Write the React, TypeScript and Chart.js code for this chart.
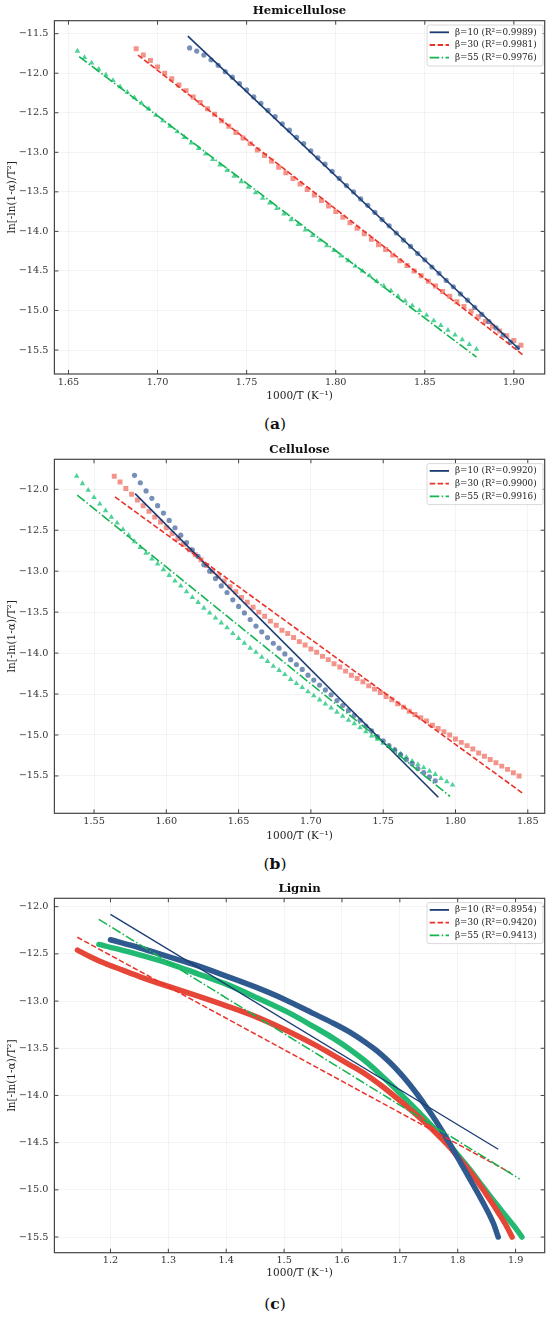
import React, { useEffect, useRef } from 'react';
import { Chart, registerables } from 'chart.js';

Chart.register(...registerables);

const SERIF = "'DejaVu Serif', serif";

// ---------- (a) Hemicellulose ----------
const hemiX10 = [1.718, 1.722, 1.726, 1.730, 1.734, 1.738, 1.742, 1.746, 1.750, 1.754, 1.758, 1.762, 1.766, 1.770, 1.774, 1.778, 1.782, 1.786, 1.790, 1.794, 1.798, 1.802, 1.806, 1.810, 1.814, 1.818, 1.822, 1.826, 1.830, 1.834, 1.838, 1.842, 1.846, 1.850, 1.854, 1.858, 1.862, 1.866, 1.870, 1.874, 1.878, 1.882, 1.886, 1.890, 1.894, 1.898, 1.902];
const hemiY10 = [-11.68, -11.72, -11.77, -11.83, -11.90, -11.98, -12.05, -12.13, -12.21, -12.30, -12.38, -12.47, -12.55, -12.64, -12.72, -12.81, -12.89, -12.98, -13.07, -13.15, -13.24, -13.33, -13.42, -13.50, -13.59, -13.67, -13.76, -13.85, -13.93, -14.02, -14.11, -14.19, -14.28, -14.36, -14.45, -14.53, -14.62, -14.70, -14.79, -14.87, -14.96, -15.05, -15.14, -15.22, -15.31, -15.40, -15.47];
const hemiX30 = [1.688, 1.692, 1.696, 1.700, 1.704, 1.708, 1.712, 1.716, 1.720, 1.724, 1.728, 1.732, 1.736, 1.740, 1.744, 1.748, 1.752, 1.756, 1.760, 1.764, 1.768, 1.772, 1.776, 1.780, 1.784, 1.788, 1.792, 1.796, 1.800, 1.804, 1.808, 1.812, 1.816, 1.820, 1.824, 1.828, 1.832, 1.836, 1.840, 1.844, 1.848, 1.852, 1.856, 1.860, 1.864, 1.868, 1.872, 1.876, 1.880, 1.884, 1.888, 1.892, 1.896, 1.900, 1.904];
const hemiY30 = [-11.69, -11.77, -11.84, -11.92, -12.00, -12.07, -12.15, -12.22, -12.30, -12.37, -12.45, -12.52, -12.60, -12.67, -12.75, -12.82, -12.89, -12.97, -13.04, -13.11, -13.19, -13.26, -13.33, -13.40, -13.47, -13.54, -13.61, -13.68, -13.75, -13.82, -13.89, -13.96, -14.03, -14.10, -14.17, -14.23, -14.30, -14.37, -14.43, -14.50, -14.56, -14.63, -14.69, -14.76, -14.82, -14.89, -14.95, -15.01, -15.08, -15.14, -15.20, -15.26, -15.32, -15.38, -15.44];
const hemiX55 = [1.655, 1.659, 1.663, 1.667, 1.671, 1.675, 1.679, 1.683, 1.687, 1.691, 1.695, 1.699, 1.703, 1.707, 1.711, 1.715, 1.719, 1.723, 1.727, 1.731, 1.735, 1.739, 1.743, 1.747, 1.751, 1.755, 1.759, 1.763, 1.767, 1.771, 1.775, 1.779, 1.783, 1.787, 1.791, 1.795, 1.799, 1.803, 1.807, 1.811, 1.815, 1.819, 1.823, 1.827, 1.831, 1.835, 1.839, 1.843, 1.847, 1.851, 1.855, 1.859, 1.863, 1.867, 1.871, 1.875, 1.879];
const hemiY55 = [-11.72, -11.80, -11.87, -11.95, -12.02, -12.09, -12.17, -12.24, -12.31, -12.38, -12.45, -12.53, -12.60, -12.67, -12.74, -12.81, -12.88, -12.95, -13.02, -13.09, -13.16, -13.23, -13.30, -13.37, -13.44, -13.51, -13.58, -13.64, -13.71, -13.78, -13.85, -13.91, -13.98, -14.05, -14.11, -14.18, -14.24, -14.31, -14.37, -14.44, -14.50, -14.56, -14.63, -14.69, -14.75, -14.82, -14.88, -14.94, -15.00, -15.06, -15.13, -15.19, -15.25, -15.31, -15.37, -15.43, -15.49];
// fitted lines (end points)
const hemiFitX = [[1.717, 1.903], [1.689, 1.905], [1.656, 1.879]];
const hemiFitY = [[-11.53, -15.49], [-11.77, -15.56], [-11.79, -15.59]];
const hemiR2 = ['0.9989', '0.9981', '0.9976'];

// ---------- (b) Cellulose ----------
const celX10 = [1.578, 1.582, 1.586, 1.590, 1.594, 1.598, 1.602, 1.606, 1.610, 1.614, 1.618, 1.622, 1.626, 1.630, 1.634, 1.638, 1.642, 1.646, 1.650, 1.654, 1.658, 1.662, 1.666, 1.670, 1.674, 1.678, 1.682, 1.686, 1.690, 1.694, 1.698, 1.702, 1.706, 1.710, 1.714, 1.718, 1.722, 1.726, 1.730, 1.734, 1.738, 1.742, 1.746, 1.750, 1.754, 1.758, 1.762, 1.766, 1.770, 1.774, 1.778, 1.782, 1.786];
const celY10 = [-11.83, -11.92, -12.02, -12.11, -12.20, -12.29, -12.38, -12.47, -12.56, -12.65, -12.74, -12.82, -12.92, -13.00, -13.09, -13.18, -13.26, -13.35, -13.43, -13.51, -13.59, -13.67, -13.74, -13.81, -13.88, -13.94, -14.01, -14.08, -14.14, -14.20, -14.27, -14.33, -14.39, -14.45, -14.51, -14.58, -14.64, -14.70, -14.76, -14.82, -14.89, -14.95, -15.02, -15.07, -15.13, -15.18, -15.24, -15.30, -15.35, -15.41, -15.46, -15.51, -15.56];
const celX30 = [1.564, 1.568, 1.572, 1.576, 1.580, 1.584, 1.588, 1.592, 1.596, 1.600, 1.604, 1.608, 1.612, 1.616, 1.620, 1.624, 1.628, 1.632, 1.636, 1.640, 1.644, 1.648, 1.652, 1.656, 1.660, 1.664, 1.668, 1.672, 1.676, 1.680, 1.684, 1.688, 1.692, 1.696, 1.700, 1.704, 1.708, 1.712, 1.716, 1.720, 1.724, 1.728, 1.732, 1.736, 1.740, 1.744, 1.748, 1.752, 1.756, 1.760, 1.764, 1.768, 1.772, 1.776, 1.780, 1.784, 1.788, 1.792, 1.796, 1.800, 1.804, 1.808, 1.812, 1.816, 1.820, 1.824, 1.828, 1.832, 1.836, 1.840, 1.844];
const celY30 = [-11.84, -11.91, -11.99, -12.06, -12.13, -12.20, -12.27, -12.34, -12.40, -12.47, -12.54, -12.60, -12.67, -12.74, -12.80, -12.86, -12.93, -13.00, -13.06, -13.12, -13.19, -13.25, -13.32, -13.38, -13.44, -13.50, -13.55, -13.61, -13.66, -13.72, -13.76, -13.81, -13.86, -13.90, -13.95, -13.99, -14.04, -14.08, -14.13, -14.17, -14.22, -14.27, -14.31, -14.35, -14.40, -14.44, -14.48, -14.53, -14.57, -14.62, -14.66, -14.71, -14.75, -14.79, -14.83, -14.88, -14.92, -14.96, -15.00, -15.05, -15.09, -15.13, -15.17, -15.22, -15.26, -15.30, -15.34, -15.38, -15.42, -15.46, -15.50];
const celX55 = [1.538, 1.542, 1.546, 1.550, 1.554, 1.558, 1.562, 1.566, 1.570, 1.574, 1.578, 1.582, 1.586, 1.590, 1.594, 1.598, 1.602, 1.606, 1.610, 1.614, 1.618, 1.622, 1.626, 1.630, 1.634, 1.638, 1.642, 1.646, 1.650, 1.654, 1.658, 1.662, 1.666, 1.670, 1.674, 1.678, 1.682, 1.686, 1.690, 1.694, 1.698, 1.702, 1.706, 1.710, 1.714, 1.718, 1.722, 1.726, 1.730, 1.734, 1.738, 1.742, 1.746, 1.750, 1.754, 1.758, 1.762, 1.766, 1.770, 1.774, 1.778, 1.782, 1.786, 1.790, 1.794, 1.798];
const celY55 = [-11.84, -11.93, -12.01, -12.10, -12.18, -12.26, -12.34, -12.41, -12.49, -12.56, -12.64, -12.71, -12.78, -12.85, -12.91, -12.98, -13.05, -13.12, -13.18, -13.25, -13.32, -13.38, -13.45, -13.51, -13.57, -13.63, -13.69, -13.76, -13.82, -13.88, -13.94, -13.99, -14.05, -14.10, -14.16, -14.21, -14.26, -14.32, -14.37, -14.42, -14.47, -14.52, -14.57, -14.62, -14.67, -14.72, -14.77, -14.82, -14.86, -14.91, -14.96, -15.01, -15.05, -15.10, -15.14, -15.18, -15.23, -15.27, -15.32, -15.36, -15.40, -15.44, -15.48, -15.53, -15.57, -15.61];
const celFitX = [[1.5784, 1.7881], [1.5645, 1.8464], [1.5384, 1.7962]];
const celFitY = [[-12.053, -15.76], [-12.094, -15.71], [-12.07, -15.75]];
const celR2 = ['0.9920', '0.9900', '0.9916'];

// ---------- (c) Lignin ----------
const ligX10 = [1.20, 1.25, 1.30, 1.35, 1.40, 1.45, 1.50, 1.55, 1.585, 1.615, 1.642, 1.662, 1.682, 1.700, 1.716, 1.731, 1.745, 1.757, 1.768, 1.780, 1.791, 1.802, 1.814, 1.825, 1.837, 1.846, 1.854, 1.862, 1.870];
const ligY10 = [-12.35, -12.435, -12.53, -12.625, -12.735, -12.85, -12.98, -13.13, -13.235, -13.335, -13.445, -13.535, -13.645, -13.76, -13.875, -13.995, -14.115, -14.22, -14.325, -14.445, -14.56, -14.68, -14.81, -14.93, -15.06, -15.16, -15.255, -15.36, -15.50];
const ligX30 = [1.143, 1.165, 1.19, 1.22, 1.25, 1.30, 1.35, 1.40, 1.455, 1.507, 1.555, 1.584, 1.612, 1.642, 1.670, 1.699, 1.722, 1.745, 1.765, 1.785, 1.802, 1.819, 1.834, 1.848, 1.860, 1.871, 1.883, 1.894];
const ligY30 = [-12.46, -12.53, -12.60, -12.67, -12.74, -12.845, -12.945, -13.05, -13.175, -13.32, -13.47, -13.57, -13.67, -13.78, -13.905, -14.05, -14.17, -14.295, -14.415, -14.54, -14.665, -14.79, -14.91, -15.035, -15.145, -15.25, -15.37, -15.50];
const ligX55 = [1.18, 1.21, 1.25, 1.30, 1.35, 1.40, 1.455, 1.507, 1.555, 1.584, 1.612, 1.642, 1.670, 1.699, 1.722, 1.745, 1.765, 1.785, 1.805, 1.825, 1.842, 1.860, 1.875, 1.888, 1.900, 1.911];
const ligY55 = [-12.40, -12.445, -12.51, -12.60, -12.71, -12.82, -12.97, -13.12, -13.285, -13.39, -13.505, -13.645, -13.80, -13.97, -14.11, -14.255, -14.385, -14.52, -14.665, -14.815, -14.955, -15.10, -15.215, -15.315, -15.405, -15.50];
const ligFitX = [[1.2, 1.870], [1.1427, 1.8914], [1.1799, 1.9069]];
const ligFitY = [[-12.081, -14.57], [-12.324, -14.82], [-12.134, -14.885]];
const ligR2 = ['0.8954', '0.9420', '0.9413'];

const betas = ['β=10', 'β=30', 'β=55'];

const markers = [
  { style: 'circle', radius: 2.6, color: 'rgba(45, 85, 145, 0.65)', solid: '#2f5a8f' },
  { style: 'rect', radius: 3.5, color: 'rgba(235, 75, 60, 0.6)', solid: '#e54637' },
  { style: 'triangle', radius: 3.2, color: 'rgba(20, 195, 120, 0.75)', solid: '#22ba72' },
];
const fits = [
  { color: '#1b3c73', dash: [] as number[] },
  { color: '#eb3228', dash: [5.5, 2.4] },
  { color: '#14b450', dash: [9.6, 2.4, 1.5, 2.4] },
];

const pts = (xs: number[], ys: number[]) => xs.map((x, i) => ({ x, y: ys[i] }));

const panels = [
  {
    title: 'Hemicellulose', caption: 'a',
    xMin: 1.6421, xMax: 1.9173, xStep: 0.05, xDigits: 2,
    yMin: -15.803, yMax: -11.336,
    top: 20.7, bottom: 374, tickPad: 2.9, xTitleY: 396.7, titleY: 11,
    xs: [hemiX10, hemiX30, hemiX55], ys: [hemiY10, hemiY30, hemiY55],
    fitX: hemiFitX, fitY: hemiFitY, r2: hemiR2, thick: false,
  },
  {
    title: 'Cellulose', caption: 'b',
    xMin: 1.5226, xMax: 1.8617, xStep: 0.05, xDigits: 2,
    yMin: -15.956, yMax: -11.634,
    top: 19.3, bottom: 373.3, tickPad: 2.6, xTitleY: 396, titleY: 10,
    xs: [celX10, celX30, celX55], ys: [celY10, celY30, celY55],
    fitX: celFitX, fitY: celFitY, r2: celR2, thick: false,
  },
  {
    title: 'Lignin', caption: 'c',
    xMin: 1.1031, xMax: 1.9503, xStep: 0.1, xDigits: 1,
    yMin: -15.666, yMax: -11.911,
    top: 18.3, bottom: 372.7, tickPad: 1.8, xTitleY: 393, titleY: 9,
    xs: [ligX10, ligX30, ligX55], ys: [ligY10, ligY30, ligY55],
    fitX: ligFitX, fitY: ligFitY, r2: ligR2, thick: true,
  },
];

const H = 410;

// title over the plot area, inward ticks on four sides, frame, boxed legend of the fits
const framePlugin = {
  id: 'frameLegend',
  afterDatasetsDraw(chart: any, _args: any, opts: any) {
    const { ctx, chartArea: a, scales } = chart;
    ctx.save();
    ctx.strokeStyle = '#444';
    ctx.lineWidth = 1;
    ctx.setLineDash([]);
    ctx.beginPath();
    scales.x.ticks.forEach((t: any) => {
      const px = scales.x.getPixelForValue(t.value);
      ctx.moveTo(px, a.bottom); ctx.lineTo(px, a.bottom - 4);
      ctx.moveTo(px, a.top); ctx.lineTo(px, a.top + 4);
    });
    scales.y.ticks.forEach((t: any) => {
      const py = scales.y.getPixelForValue(t.value);
      ctx.moveTo(a.left, py); ctx.lineTo(a.left + 4, py);
      ctx.moveTo(a.right, py); ctx.lineTo(a.right - 4, py);
    });
    ctx.stroke();
    ctx.lineWidth = 1.2;
    ctx.strokeRect(a.left, a.top, a.right - a.left, a.bottom - a.top);

    ctx.fillStyle = '#111';
    ctx.font = `bold 11.7px ${SERIF}`;
    ctx.textAlign = 'center';
    ctx.textBaseline = 'middle';
    ctx.fillText(opts.title, (a.left + a.right) / 2, opts.titleY);

    const lines = chart.data.datasets.filter((d: any) => d.isFit);
    const bw = 116, bh = 41;
    const bx = a.right - 1.7 - bw, by = a.top + 4.3;
    ctx.fillStyle = 'rgba(255,255,255,0.85)';
    ctx.strokeStyle = '#cfcfcf';
    ctx.lineWidth = 0.8;
    ctx.beginPath();
    ctx.roundRect(bx, by, bw, bh, 2);
    ctx.fill();
    ctx.stroke();
    ctx.font = `8.8px ${SERIF}`;
    ctx.textAlign = 'left';
    lines.forEach((d: any, i: number) => {
      const y = by + 7.3 + i * 12.7;
      ctx.strokeStyle = d.borderColor;
      ctx.lineWidth = 1.8;
      ctx.setLineDash(d.borderDash || []);
      ctx.beginPath();
      ctx.moveTo(bx + 2.7, y);
      ctx.lineTo(bx + 22, y);
      ctx.stroke();
      ctx.setLineDash([]);
      ctx.fillStyle = '#222';
      ctx.fillText(d.label, bx + 28, y);
    });
    ctx.restore();
  },
};

function Panel({ p }: { p: any }) {
  const ref = useRef<HTMLCanvasElement>(null);

  useEffect(() => {
    if (!ref.current) return;
    const datasets: any[] = [];
    markers.forEach((m, i) => {
      datasets.push(p.thick ? {
        label: betas[i] + ' data',
        data: pts(p.xs[i], p.ys[i]),
        showLine: true,
        borderColor: m.solid,
        borderWidth: 5.5,
        borderCapStyle: 'round',
        borderJoinStyle: 'round',
        cubicInterpolationMode: 'monotone',
        pointRadius: 0,
        order: 4 + i,
      } : {
        label: betas[i] + ' data',
        data: pts(p.xs[i], p.ys[i]),
        pointStyle: m.style,
        pointRadius: m.radius,
        backgroundColor: m.color,
        borderWidth: 0,
        showLine: false,
        order: 4 + i,
      });
    });
    fits.forEach((f, i) => {
      datasets.push({
        label: `${betas[i]} (R²=${p.r2[i]})`,
        isFit: true,
        data: pts(p.fitX[i], p.fitY[i]),
        showLine: true,
        borderColor: f.color,
        borderDash: f.dash,
        borderWidth: p.thick ? (i === 0 ? 1.3 : 1.5) : 1.6,
        pointRadius: 0,
        order: 3 - i,
      });
    });

    const chart = new Chart(ref.current, {
      type: 'scatter',
      data: { datasets },
      plugins: [framePlugin],
      options: {
        animation: false,
        responsive: false,
        maintainAspectRatio: false,
        events: [],
        layout: { padding: { left: 0, right: 5.3, top: p.top, bottom: 0 } },
        plugins: {
          legend: { display: false },
          tooltip: { enabled: false },
          title: { display: false },
          frameLegend: { title: p.title, titleY: p.titleY },
        },
        scales: {
          x: {
            type: 'linear',
            min: p.xMin,
            max: p.xMax,
            afterFit: (s: any) => { s.height = H - p.bottom; },
            border: { display: false },
            grid: { color: 'rgba(0,0,0,0.06)', lineWidth: 0.8, drawTicks: false },
            ticks: {
              stepSize: p.xStep,
              includeBounds: false,
              padding: p.tickPad,
              color: '#333',
              font: { family: SERIF, size: 9.7 },
              callback: (v: any) => Number(v).toFixed(p.xDigits),
            },
            title: {
              display: true,
              text: '1000/T (K⁻¹)',
              color: '#222',
              font: { family: SERIF, size: 10.5 },
              padding: { top: 0, bottom: H - p.xTitleY - 6.3 },
            },
          },
          y: {
            type: 'linear',
            min: p.yMin,
            max: p.yMax,
            afterFit: (s: any) => { s.width = 54.4; },
            border: { display: false },
            grid: { color: 'rgba(0,0,0,0.06)', lineWidth: 0.8, drawTicks: false },
            ticks: {
              stepSize: 0.5,
              includeBounds: false,
              padding: 6,
              color: '#333',
              font: { family: SERIF, size: 9.7 },
              callback: (v: any) => (Number(v) < 0 ? '\u2212' : '') + Math.abs(Number(v)).toFixed(1),
            },
            title: {
              display: true,
              text: 'ln[-ln(1-α)/T²]',
              color: '#222',
              font: { family: SERIF, size: 10.5 },
              padding: { top: 5.7, bottom: 0 },
            },
          },
        },
      } as any,
    });
    return () => {
      chart.destroy();
    };
  }, [p]);

  return (
    <div style={{ position: 'relative', width: 550, height: 440 }}>
      <canvas ref={ref} width={550} height={H} style={{ display: 'block', width: 550, height: H }} />
      <div
        style={{
          position: 'absolute', left: 0, top: 414, width: 550, textAlign: 'center',
          fontFamily: SERIF, fontSize: 15.5, lineHeight: '20px', color: '#111',
        }}
      >
        (<b>{p.caption}</b>)
      </div>
    </div>
  );
}

export default function App() {
  useEffect(() => {
    document.body.style.margin = '0';
    document.body.style.background = '#fff';
  }, []);
  return (
    <div style={{ width: 550, height: 1320, overflow: 'hidden', background: '#fff' }}>
      {panels.map((p) => (
        <Panel key={p.caption} p={p} />
      ))}
    </div>
  );
}
